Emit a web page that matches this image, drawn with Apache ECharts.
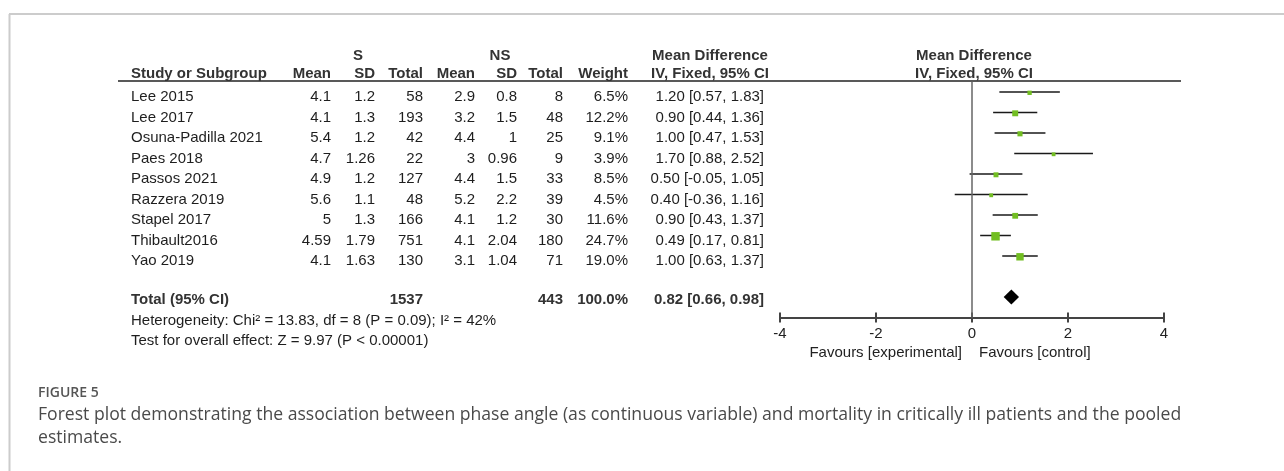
<!DOCTYPE html>
<html><head><meta charset="utf-8">
<script src="https://cdn.jsdelivr.net/npm/echarts@6/dist/echarts.min.js"></script>
<style>html,body{margin:0;padding:0;background:#fff}#c{width:1284px;height:471px}</style>
</head><body><div id="c"></div>
<script>
// ---- data ----
const studies = ['Lee 2015','Lee 2017','Osuna-Padilla 2021','Paes 2018','Passos 2021','Razzera 2019','Stapel 2017','Thibault2016','Yao 2019'];
const sMean = [4.1,4.1,5.4,4.7,4.9,5.6,5,4.59,4.1];
const sSD = [1.2,1.3,1.2,1.26,1.2,1.1,1.3,1.79,1.63];
const sTotal = [58,193,42,22,127,48,166,751,130];
const nsMean = [2.9,3.2,4.4,3,4.4,5.2,4.1,4.1,3.1];
const nsSD = [0.8,1.5,1,0.96,1.5,2.2,1.2,2.04,1.04];
const nsTotal = [8,48,25,9,33,39,30,180,71];
const weight = [6.5,12.2,9.1,3.9,8.5,4.5,11.6,24.7,19.0];
const md = [1.20,0.90,1.00,1.70,0.50,0.40,0.90,0.49,1.00];
const ciLow = [0.57,0.44,0.47,0.88,-0.05,-0.36,0.43,0.17,0.63];
const ciHigh = [1.83,1.36,1.53,2.52,1.05,1.16,1.37,0.81,1.37];
const pooled = {sTotal:1537, nsTotal:443, weight:100.0, md:0.82, lo:0.66, hi:0.98};
const heterogeneityText = 'Heterogeneity: Chi\u00b2 = 13.83, df = 8 (P = 0.09); I\u00b2 = 42%';
const overallText = 'Test for overall effect: Z = 9.97 (P < 0.00001)';
const xTicks = [-4,-2,0,2,4];
const favoursLeft = 'Favours [experimental]';
const favoursRight = 'Favours [control]';
const figLabel = 'FIGURE 5';
const captionLines = ['Forest plot demonstrating the association between phase angle (as continuous variable) and mortality in critically ill patients and the pooled','estimates.'];

// ---- layout ----
const FONT = 'Liberation Sans';
const COL = {name:131, sMean:331, sSD:375, sTotal:423, nsMean:475, nsSD:517, nsTotal:563, weight:628, ci:764, ciHead:710, plotHead:974, sGroup:358, nsGroup:500};
const fmt2 = v => v.toFixed(2);
const ciStr = (m,l,h) => fmt2(m) + ' [' + fmt2(l) + ', ' + fmt2(h) + ']';

const tableRows = [];
tableRows.push({row:-2, dy:4.5, cells:[
  {x:COL.sGroup, a:'center', t:'S', b:true},
  {x:COL.nsGroup, a:'center', t:'NS', b:true},
  {x:COL.ciHead, a:'center', t:'Mean Difference', b:true},
  {x:COL.plotHead, a:'center', t:'Mean Difference', b:true}]});
tableRows.push({row:-1, dy:2.5, cells:[
  {x:COL.name, a:'left', t:'Study or Subgroup', b:true},
  {x:COL.sMean, a:'right', t:'Mean', b:true},
  {x:COL.sSD, a:'right', t:'SD', b:true},
  {x:COL.sTotal, a:'right', t:'Total', b:true},
  {x:COL.nsMean, a:'right', t:'Mean', b:true},
  {x:COL.nsSD, a:'right', t:'SD', b:true},
  {x:COL.nsTotal, a:'right', t:'Total', b:true},
  {x:COL.weight, a:'right', t:'Weight', b:true},
  {x:COL.ciHead, a:'center', t:'IV, Fixed, 95% CI', b:true},
  {x:COL.plotHead, a:'center', t:'IV, Fixed, 95% CI', b:true}]});
studies.forEach((s,i) => {
  tableRows.push({row:i, dy:5, cells:[
    {x:COL.name, a:'left', t:s},
    {x:COL.sMean, a:'right', t:String(sMean[i])},
    {x:COL.sSD, a:'right', t:String(sSD[i])},
    {x:COL.sTotal, a:'right', t:String(sTotal[i])},
    {x:COL.nsMean, a:'right', t:String(nsMean[i])},
    {x:COL.nsSD, a:'right', t:String(nsSD[i])},
    {x:COL.nsTotal, a:'right', t:String(nsTotal[i])},
    {x:COL.weight, a:'right', t:weight[i].toFixed(1)+'%'},
    {x:COL.ci, a:'right', t:ciStr(md[i],ciLow[i],ciHigh[i])}]});
});
const totalRow = studies.length + 1;
tableRows.push({row:totalRow, dy:3, cells:[
  {x:COL.name, a:'left', t:'Total (95% CI)', b:true},
  {x:COL.sTotal, a:'right', t:String(pooled.sTotal), b:true},
  {x:COL.nsTotal, a:'right', t:String(pooled.nsTotal), b:true},
  {x:COL.weight, a:'right', t:pooled.weight.toFixed(1)+'%', b:true},
  {x:COL.ci, a:'right', t:ciStr(pooled.md,pooled.lo,pooled.hi), b:true}]});
tableRows.push({row:totalRow+1, dy:3, cells:[{x:COL.name, a:'left', t:heterogeneityText}]});
tableRows.push({row:totalRow+2, dy:3, cells:[{x:COL.name, a:'left', t:overallText}]});

const forestData = studies.map((s,i) => [md[i], ciLow[i], ciHigh[i], i, weight[i]]);

const chart = echarts.init(document.getElementById('c'));
chart.setOption({
  backgroundColor:'#fff',
  animation:false,
  grid:{left:780, width:384, top:81.75, height:235.75},
  xAxis:[{
    type:'value', min:xTicks[0], max:xTicks[xTicks.length-1], interval:2, position:'bottom',
    axisLine:{show:true, onZero:false, lineStyle:{color:'#444', width:2}},
    axisTick:{show:true, length:5, lineStyle:{color:'#444', width:2}},
    axisLabel:{margin:9, fontSize:15, fontFamily:FONT, color:'#222'},
    splitLine:{show:false}
  },{
    type:'value', min:xTicks[0], max:xTicks[xTicks.length-1], interval:2, position:'bottom', offset:0,
    axisLine:{show:false, onZero:false},
    axisTick:{show:true, inside:true, length:5, lineStyle:{color:'#444', width:2}},
    axisLabel:{show:false}, splitLine:{show:false}
  }],
  yAxis:{type:'value', inverse:true, min:-0.5, max:totalRow+1, show:false, splitLine:{show:false}},
  series:[{
    type:'custom', name:'studies', clip:false, data:forestData,
    renderItem:(params, api) => {
      const est=api.value(0), l=api.value(1), h=api.value(2), row=api.value(3), w=api.value(4);
      const p0=api.coord([l,row]), p1=api.coord([h,row]), pc=api.coord([est,row]);
      const s=Math.max(3.8, 1.7*Math.sqrt(w));
      return {type:'group', children:[
        {type:'line', shape:{x1:p0[0],y1:p0[1],x2:p1[0],y2:p1[1]}, style:{stroke:'#1a1a1a', lineWidth:1.5}},
        {type:'rect', shape:{x:pc[0]-s/2, y:pc[1]-s/2+0.8, width:s, height:s}, style:{fill:'#72be22'}}
      ]};
    },
    markLine:{symbol:'none', silent:true, label:{show:false}, lineStyle:{color:'#666', width:1.5, type:'solid'}, data:[{xAxis:0}]}
  },{
    type:'custom', name:'pooled', clip:false, data:[[pooled.md, pooled.lo, pooled.hi, totalRow]],
    renderItem:(params, api) => {
      const m=api.coord([api.value(0), api.value(3)]), l=api.coord([api.value(1), api.value(3)]), h=api.coord([api.value(2), api.value(3)]);
      const hh=7.5;
      return {type:'polygon', shape:{points:[[l[0],m[1]],[m[0],m[1]-hh],[h[0],m[1]],[m[0],m[1]+hh]]}, style:{fill:'#000'}};
    }
  },{
    type:'custom', name:'table', clip:false, silent:true,
    data:tableRows.map(r => [0, r.row]),
    renderItem:(params, api) => {
      const r = tableRows[params.dataIndex];
      const y = api.coord([0, api.value(1)])[1] + r.dy;
      return {type:'group', children:r.cells.map(c => ({type:'text', style:{
        x:c.x, y:y, text:c.t, align:c.a, verticalAlign:'middle',
        fontSize:15, fontFamily:FONT, fontWeight:c.b?'bold':'normal', fill:c.b?'#333':'#1e1e1e'}}))};
    }
  }],
  graphic:[
    {type:'line', shape:{x1:9, y1:14, x2:1284, y2:14}, style:{stroke:'#cccccc', lineWidth:2}},
    {type:'line', shape:{x1:9.5, y1:14, x2:9.5, y2:471}, style:{stroke:'#cccccc', lineWidth:2}},
    {type:'line', shape:{x1:118, y1:81, x2:1181, y2:81}, style:{stroke:'#222', lineWidth:1.5}},
    {type:'text', style:{x:962, y:353, text:favoursLeft, align:'right', verticalAlign:'middle', fontSize:15, fontFamily:FONT, fill:'#222'}},
    {type:'text', style:{x:979, y:353, text:favoursRight, align:'left', verticalAlign:'middle', fontSize:15, fontFamily:FONT, fill:'#222'}},
    {type:'text', style:{x:38, y:393, text:figLabel, align:'left', verticalAlign:'middle', fontSize:14, fontFamily:'Open Sans', fontWeight:600, fill:'#555'}},
    {type:'text', style:{x:38, y:415, text:captionLines[0], align:'left', verticalAlign:'middle', fontSize:17.6, fontFamily:'Open Sans', fill:'#4a4a4a'}},
    {type:'text', style:{x:38, y:438, text:captionLines[1], align:'left', verticalAlign:'middle', fontSize:17.6, fontFamily:'Open Sans', fill:'#4a4a4a'}}
  ]
});
</script></body></html>
